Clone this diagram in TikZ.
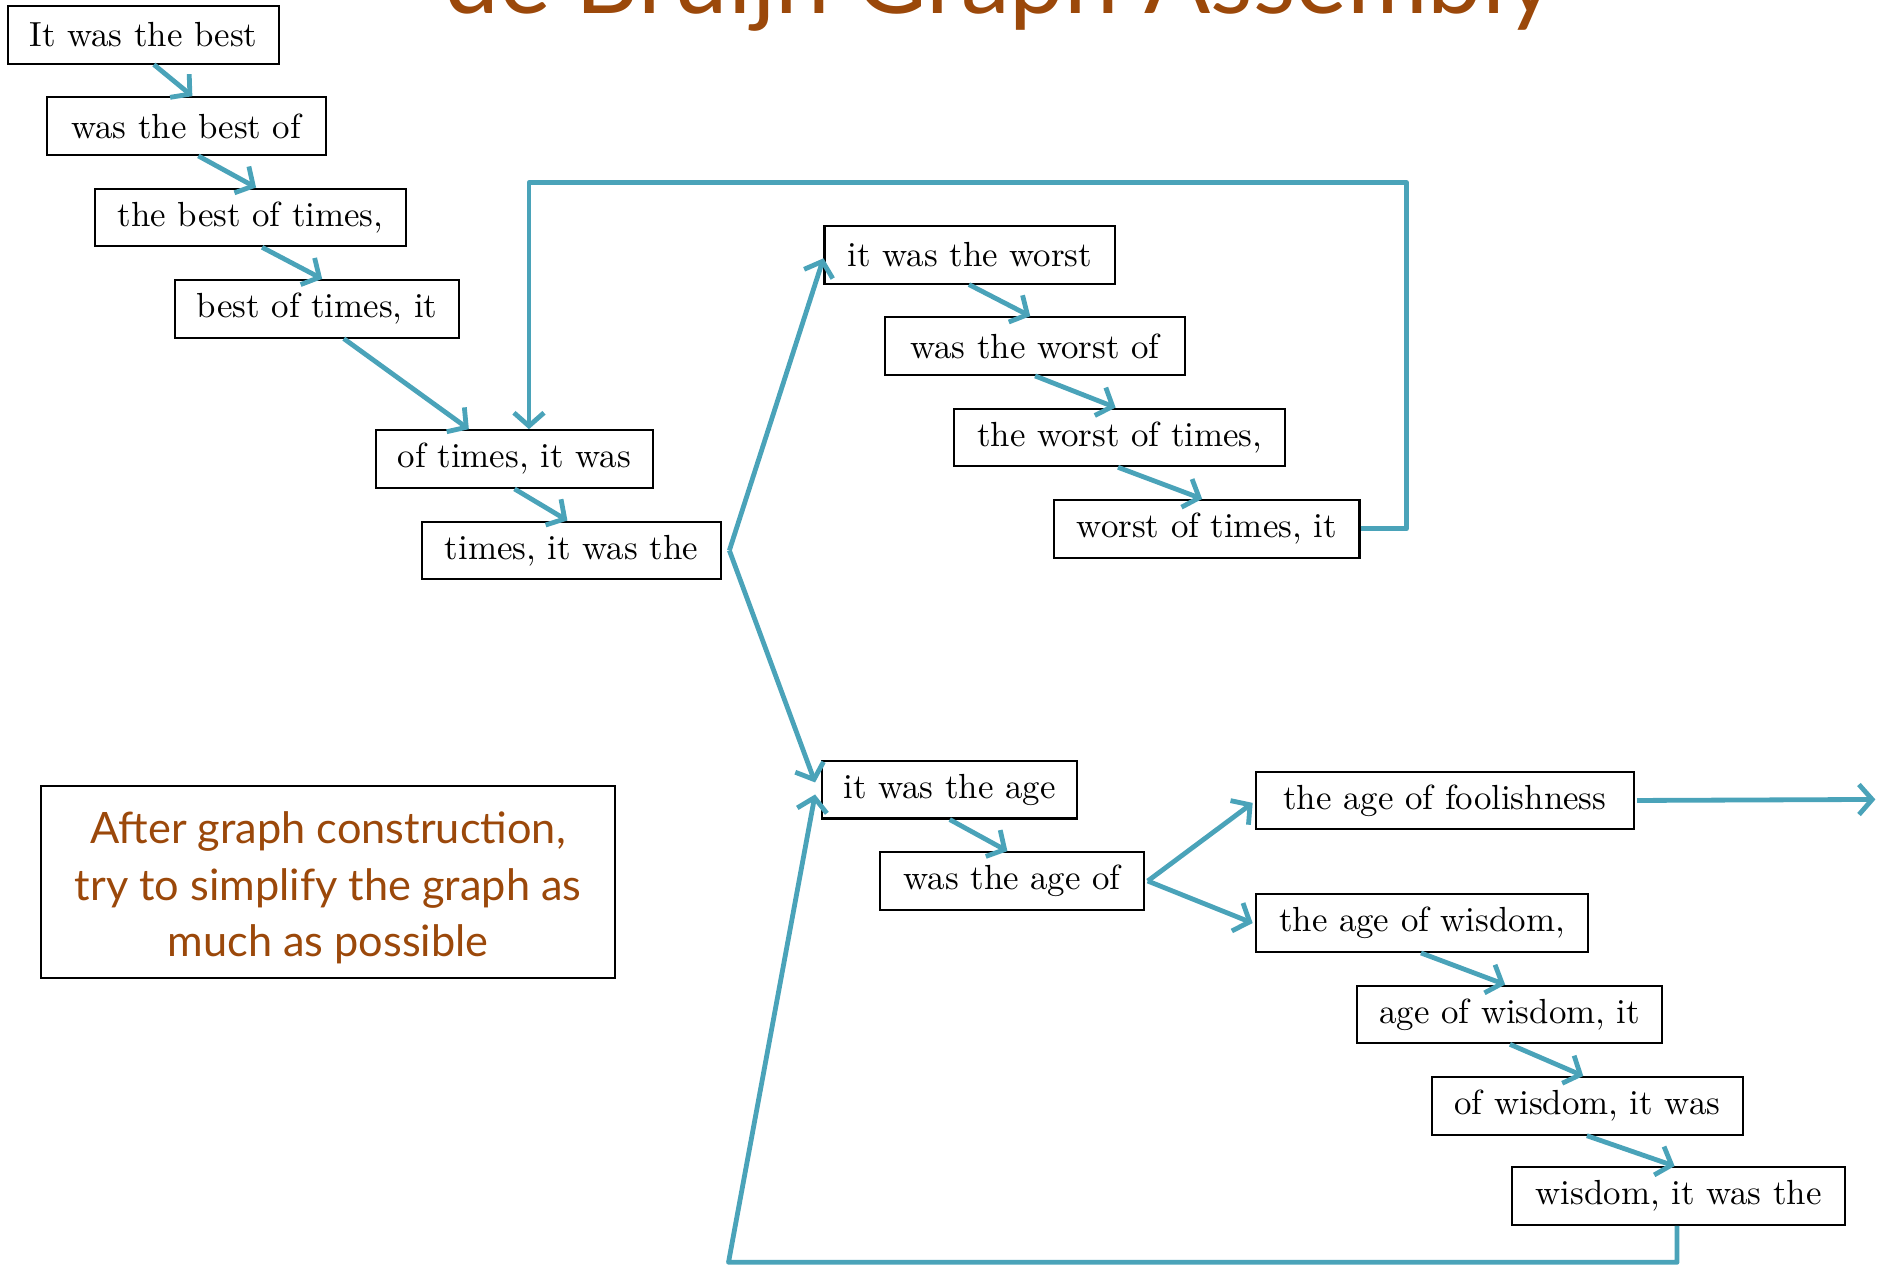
\documentclass[tikz,border=0pt]{standalone}
\usepackage{fontspec}
\newfontfamily\gillfont{Lato}
\newfontfamily\boxfont{lmroman10-regular.otf}
\usetikzlibrary{arrows.meta,calc}
\definecolor{arrowteal}{RGB}{74,163,185}
\definecolor{titlebrown}{RGB}{155,72,10}
\begin{document}
\begin{tikzpicture}[x=1pt,y=-1pt,
  kbox/.style={draw=black, line width=1.7pt, inner sep=0pt, minimum height=48pt,
    anchor=north west, font=\boxfont\fontsize{29}{34}\selectfont},
  conn/.style={draw=arrowteal, line width=4pt, line join=round,
    -{Straight Barb[length=11pt,width=25pt]}}]
\useasboundingbox (0,0) rectangle (1568,1054);

% title (clipped at the top)
\node[anchor=base, text=titlebrown, inner sep=0pt] (title) at (832,11)
  {\resizebox{925pt}{!}{\gillfont de Bruijn Graph Assembly}};

% k-mer boxes
\node[kbox, minimum width=225pt] (b1) at (6,4) {It was the best};
\node[kbox, minimum width=232pt] (b2) at (38,80) {was the best of};
\node[kbox, minimum width=259pt] (b3) at (78,156) {the best of times,};
\node[kbox, minimum width=236pt] (b4) at (145,232) {best of times, it};
\node[kbox, minimum width=230pt] (b5) at (312,357) {of times, it was};
\node[kbox, minimum width=249pt] (b6) at (350,433) {times, it was the};
\node[kbox, minimum width=242pt] (b7) at (685,187) {it was the worst};
\node[kbox, minimum width=250pt] (b8) at (735,263) {was the worst of};
\node[kbox, minimum width=275pt] (b9) at (793,339) {the worst of times,};
\node[kbox, minimum width=254pt] (b10) at (876,415) {worst of times, it};
\node[kbox, minimum width=212pt] (b11) at (683,632) {it was the age};
\node[kbox, minimum width=220pt] (b12) at (731,708) {was the age of};
\node[kbox, minimum width=314pt] (b13) at (1044,641) {the age of foolishness};
\node[kbox, minimum width=276pt] (b14) at (1044,743) {the age of wisdom,};
\node[kbox, minimum width=254pt] (b15) at (1128,819) {age of wisdom, it};
\node[kbox, minimum width=259pt] (b16) at (1190,895) {of wisdom, it was};
\node[kbox, minimum width=277pt] (b17) at (1257,970) {wisdom, it was the};

% note
\node[draw=black, line width=1.7pt, inner sep=0pt, anchor=north west,
  minimum width=478pt, minimum height=160pt] (note) at (33,653) {};
\node[align=center, text=titlebrown, inner sep=0pt,
  font=\gillfont\fontsize{36}{47}\selectfont] (notetext) at ($(note.center)+(0,5)$)
  {After graph construction,\\try to simplify the graph as\\much as possible};

% helper coordinates
\coordinate (topright) at (1170,152);
\coordinate (bottomleft) at (606,1050);
\coordinate (outend) at (1560,665);

% chain arrows
\draw[conn] ([xshift=122pt]b1.south west) -- ([xshift=122pt]b2.north west);
\draw[conn] ([xshift=127pt]b2.south west) -- ([xshift=135pt]b3.north west);
\draw[conn] ([xshift=140pt]b3.south west) -- ([xshift=123pt]b4.north west);
\draw[conn] ([xshift=141pt]b4.south west) -- ([xshift=78pt]b5.north west);
\draw[conn] ([xshift=116pt]b5.south west) -- ([xshift=122pt]b6.north west);
\draw[conn] ([xshift=121pt]b7.south west) -- ([xshift=122pt]b8.north west);
\draw[conn] ([xshift=126pt]b8.south west) -- ([xshift=135pt]b9.north west);
\draw[conn] ([xshift=137pt]b9.south west) -- ([xshift=124pt]b10.north west);
\draw[conn] ([xshift=107pt]b11.south west) -- ([xshift=107pt]b12.north west);
\draw[conn] ([xshift=138pt]b14.south west) -- ([xshift=124pt]b15.north west);
\draw[conn] ([xshift=128pt]b15.south west) -- ([xshift=127pt]b16.north west);
\draw[conn] ([xshift=130pt]b16.south west) -- ([xshift=136pt]b17.north west);

% branches
\draw[conn] ([xshift=6pt]b6.east) -- ([yshift=-3pt]b7.west);
\draw[conn] ([xshift=6pt]b6.east) -- ([xshift=-5pt,yshift=6pt]b11.west);
\draw[conn] ([xshift=2pt]b12.east) -- ([xshift=-2pt,yshift=-2pt]b13.west);
\draw[conn] ([xshift=2pt]b12.east) -- ([xshift=-2pt]b14.west);
\draw[conn] ([xshift=2pt]b13.east) -- (outend);

% loops
\draw[conn] (b10.east) -| (topright) -| ([xshift=128pt]b5.north west);
\draw[conn] ([xshift=138pt]b17.south west) |- (bottomleft) -- ([xshift=-5pt,yshift=-4pt]b11.west);
\end{tikzpicture}
\end{document}
